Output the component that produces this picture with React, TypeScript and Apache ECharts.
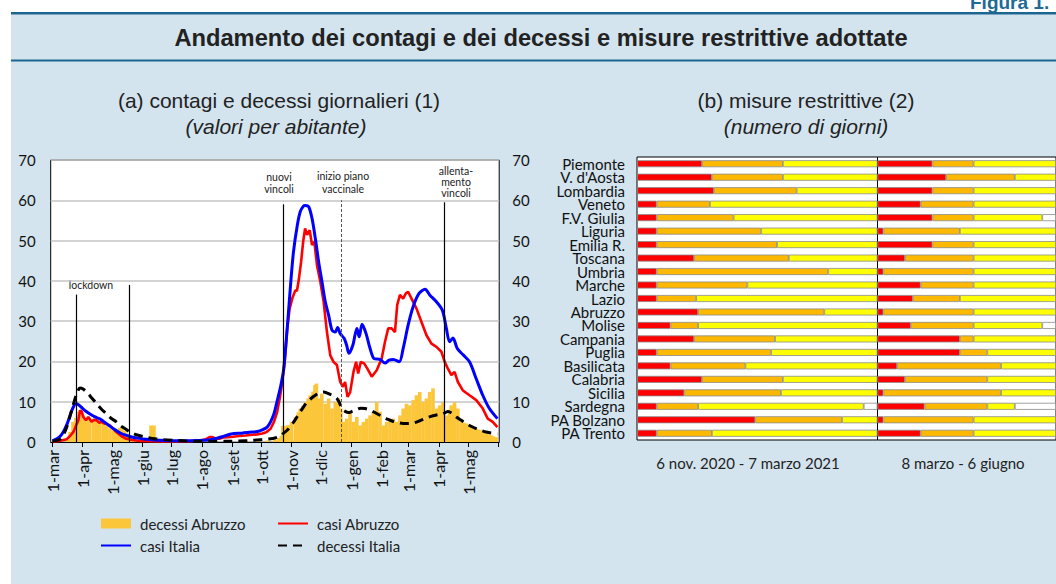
import React, { useEffect, useRef } from "react";
import * as echarts from "echarts";

// ---------- DATA ----------
// Left panel: day offset from 1 March 2020, value per abitante
const START_UTC = Date.UTC(2020, 2, 1);
const DAY_MS = 86400000;
const END_DAY = 456;
const monthNames = ["gen", "feb", "mar", "apr", "mag", "giu", "lug", "ago", "set", "ott", "nov", "dic"];
const yTickStep = 10;
const yMax = 70;

const casiItalia: [number, number][] = [
  [0, 0.3], [7, 1.2], [11, 2.5], [15, 4.5], [18, 6.6], [21, 8.5], [24, 9.5], [27, 9.2], [31, 8.3], [35, 7.5],
  [38, 7], [43, 6.3], [48, 5.8], [53, 5], [58, 4.1], [63, 3.2], [69, 2.3], [75, 1.7], [82, 1.2], [89, 0.9],
  [96, 0.7], [110, 0.45], [130, 0.3], [150, 0.35], [160, 0.5], [168, 0.9], [174, 1.3], [180, 1.8], [186, 2.1],
  [194, 2.2], [202, 2.4], [210, 2.6], [215, 3], [220, 3.7], [223.5, 5], [227, 7], [230, 9.9], [234, 14],
  [237, 18.2], [240.5, 28], [244, 39], [247, 47.2], [251, 53.9], [254, 57.2], [257, 58.5], [259, 58.7],
  [262.6, 58.4], [266, 55.5], [269.4, 50.5], [272.8, 44.7], [276.2, 39.8], [279.6, 34.8], [283, 31.5],
  [286.4, 27.8], [289.8, 27.3], [292.2, 28.4], [294.9, 26.9], [299, 25.7], [301.5, 24], [303.8, 22],
  [307.8, 24], [312, 28.2], [314.3, 26.1], [317.3, 29.2], [321.4, 26.9], [325.5, 23.2], [329.6, 20.7],
  [335.7, 20.5], [340.8, 19.6], [345, 20.3], [349.3, 20.5], [355.4, 19.9], [359.4, 23.2], [364.5, 29],
  [369.6, 33.6], [375.7, 36.9], [381.9, 37.9], [386.6, 36.5], [393.5, 34.8], [399.6, 32.7], [403.7, 28.2],
  [407, 24.9], [410.4, 25.8], [414.9, 23.2], [420.6, 21.7], [427.4, 19.9], [434.3, 15.7], [441, 11.6],
  [447.8, 8.3], [456, 5.8],
];

const casiAbruzzo: [number, number][] = [
  [0, 0], [8, 0.3], [14.6, 0.7], [18, 1.5], [21.4, 2.5], [24, 4], [26.5, 5.4], [28.2, 7.8], [29.9, 7.6],
  [31.6, 6.2], [34.3, 5.4], [36.7, 6.2], [40, 5], [42.5, 5.5], [45.2, 5.4], [48, 4.8], [50.3, 5], [53, 4.6],
  [55.4, 4.5], [58, 4.2], [60.5, 3.7], [64, 2.8], [67.3, 2.1], [71, 1.4], [75.7, 0.8], [82, 0.5], [89.3, 0.25],
  [113, 0.15], [137, 0.15], [150, 0.3], [157.3, 0.7], [161, 1.2], [164, 1.2], [167, 0.9], [170.8, 0.8],
  [175, 1.1], [179.4, 1.2], [185, 1.3], [191.2, 1.5], [198, 1.6], [205, 1.8], [210, 1.9], [215, 2.1],
  [219, 2.4], [223.5, 3.3], [227, 5], [230.3, 7.5], [233, 11], [235.5, 14.9], [238, 20], [240.5, 28],
  [243, 33], [245.7, 35.6], [249, 37.7], [250.5, 37.5], [252.4, 40.2], [254.8, 44.7], [256.9, 49.7],
  [258.9, 53], [261, 51.4], [263.6, 52.6], [266, 48.9], [268.4, 49.7], [271.1, 43.9], [274.5, 39.8],
  [277.9, 34.8], [281.3, 27.3], [284.7, 21.5], [288, 19.9], [291.5, 19.1], [294.9, 14.9], [297.6, 13.7],
  [299.9, 14.9], [302.4, 11.2], [305.1, 12.4], [308.5, 17.4], [311.2, 19.9], [313.3, 17], [316, 19.9],
  [319.4, 19.5], [322.7, 18.2], [327.2, 16.2], [332.3, 17.8], [337.4, 20.7], [340.8, 24.9], [344.1, 28.2],
  [347.6, 28.2], [351, 27.3], [353.3, 34], [356.1, 36.5], [359.4, 35.6], [362.2, 36.9], [364.5, 37.3],
  [368, 35.6], [373.1, 33.1], [378.2, 29.8], [383.3, 26.5], [388.4, 24.4], [393.5, 23.6], [398.6, 22.4],
  [402, 19.9], [405.3, 18.2], [408.8, 16.6], [412.1, 17.4], [415.5, 14.9], [420.6, 12.8], [427.4, 11.6],
  [434.3, 10.4], [441, 8.3], [446.1, 5.8], [451.2, 5], [456, 3.7],
];

const decessiItalia: [number, number][] = [
  [0, 0.2], [7, 0.6], [11, 1.7], [14.6, 3.7], [19.7, 7.9], [24.8, 12], [28.2, 13.4], [31, 13.2], [35, 12.4],
  [40, 11], [45.2, 9.5], [50, 8.2], [55.4, 7], [60, 5.9], [65.5, 5], [70, 4], [75.7, 3.1], [80, 2.4],
  [85.9, 1.8], [96, 1.2], [105, 0.8], [113, 0.6], [125, 0.4], [137, 0.25], [150, 0.2], [164, 0.15],
  [180, 0.2], [191, 0.25], [205, 0.4], [215, 0.6], [223.5, 0.8], [228, 1], [233.7, 1.5], [237, 2.2],
  [240.5, 2.9], [244, 4], [247.3, 5], [250.5, 6.2], [254, 7.5], [257.5, 8.8], [261, 9.9], [265, 10.8],
  [269.4, 11.6], [273, 12.1], [277.9, 12.4], [281, 12.2], [284.7, 11.8], [288, 11.4], [291.5, 10.8],
  [294, 9.8], [296.6, 8.3], [300, 7.6], [303.4, 7.3], [307, 7.6], [312, 8.1], [316, 8.4], [320.4, 8.3],
  [324.5, 8], [328.9, 7.5], [333.5, 6.9], [339, 6.2], [344, 5.6], [349.3, 5.1], [354, 4.8], [359.4, 4.6],
  [364, 4.6], [369.6, 4.7], [375, 5.1], [379.8, 5.6], [385, 6.1], [390, 6.5], [395, 6.8], [400.2, 7],
  [405.3, 7.6], [409, 7.2], [413.9, 6.2], [419, 5.4], [424, 4.6], [429, 3.9], [434.3, 3.3], [439, 2.9],
  [444.4, 2.5], [450, 2.2], [456, 2.0],
];

const decessiAbruzzo: [number, number][] = [
  [15, 0.5], [18, 2.5], [21, 5], [24, 6], [27, 7.5], [28.5, 7.9], [31.5, 6.6], [35, 5.8], [38, 6],
  [41.8, 5.4], [45, 5.2], [48.5, 5], [52, 4.6], [55.4, 4.1], [58.8, 3.4], [62.2, 2.9], [65.6, 3], [69, 3.5],
  [70.7, 3.7], [74, 2.8], [75.7, 2.1], [79, 1.2], [82, 0.6], [86, 0.4], [90, 0.3], [94, 0.2],
  [101, 4.1], [104, 4.1],
  [200, 0.2], [210, 0.3], [220, 0.4], [228, 0.6], [232, 1], [234.5, 1.5], [236, 4], [239, 4], [241.5, 4.2],
  [245, 5], [249, 6.2], [252, 7.4], [254, 8.3], [256.5, 9], [259, 9.9], [262, 10.8], [264, 11.6], [267, 12.5],
  [269, 14.1], [270.5, 14.5], [272.8, 10.8], [276, 12], [279.6, 9.5], [283, 10.8], [286.4, 8.3], [289.8, 9.9],
  [293.2, 10.8], [295.5, 8.3], [298.2, 5], [301.6, 5.8], [305, 7.5], [308.5, 5], [311.9, 6.2], [315.3, 4.1],
  [318.7, 5], [322.1, 5.8], [325.5, 6.6], [328.9, 7.5], [332.3, 9.9], [335.7, 7.5], [339.1, 4.1], [342.5, 5],
  [345.9, 5.4], [349.3, 5.8], [352.7, 5], [356.1, 6.6], [359.4, 8.3], [362.8, 9.5], [366.2, 9.1],
  [369.6, 10.4], [373, 11.6], [376.4, 12.4], [379.8, 9.9], [383.2, 10.8], [386.6, 12.4], [390, 13.3],
  [393.4, 8.3], [396.8, 9.1], [400.2, 9.9], [403.6, 6.6], [407, 8], [408.7, 9.1], [412.1, 9.9], [415.5, 8.3],
  [418.9, 5], [421.5, 4.8], [424, 4.6], [426.5, 4.3], [429.1, 4.1], [431.7, 3.7], [434.3, 3.3], [436.8, 3.1],
  [439.4, 2.9], [442, 2.5], [444.5, 2.1], [447, 1.9], [449.6, 1.7], [452, 1.4], [454.7, 1.2],
];

// vertical event lines: [day offset, top value]
const eventLockdownStart: [number, number] = [24, 36.6];
const eventLockdownEnd: [number, number] = [79, 39];
const eventNuoviVincoli: [number, number] = [237, 59];
const eventVaccini: [number, number] = [295.6, 60];
const eventAllentamento: [number, number] = [402, 59.5];

// Right panel
const regions = [
  "Piemonte", "V. d'Aosta", "Lombardia", "Veneto", "F.V. Giulia", "Liguria", "Emilia R.", "Toscana",
  "Umbria", "Marche", "Lazio", "Abruzzo", "Molise", "Campania", "Puglia", "Basilicata", "Calabria",
  "Sicilia", "Sardegna", "PA Bolzano", "PA Trento",
];
const p1Days = 122;
const p2Days = 91;
const p1Rossa = [33, 38, 39, 10, 10, 10, 10, 29, 10, 10, 10, 31, 17, 29, 10, 17, 33, 24, 10, 60, 10];
const p1Arancione = [41, 36, 42, 27, 39, 53, 61, 48, 87, 46, 20, 64, 14, 41, 58, 38, 41, 49, 21, 44, 28];
const p1Gialla = [48, 48, 41, 85, 73, 59, 51, 45, 25, 66, 92, 27, 91, 52, 54, 67, 48, 49, 84, 18, 84];
const p1Bianca = [0, 0, 0, 0, 0, 0, 0, 0, 0, 0, 0, 0, 0, 0, 0, 0, 0, 0, 7, 0, 0];
const p2Rossa = [28, 35, 28, 22, 28, 3, 28, 14, 3, 22, 18, 3, 17, 42, 42, 10, 14, 3, 24, 3, 22];
const p2Arancione = [21, 35, 21, 27, 21, 39, 21, 35, 46, 27, 24, 46, 32, 7, 14, 53, 42, 60, 32, 46, 27];
const p2Gialla = [42, 21, 42, 42, 35, 49, 42, 42, 42, 42, 49, 42, 35, 42, 35, 28, 35, 28, 14, 42, 42];
const p2Bianca = [0, 0, 0, 0, 7, 0, 0, 0, 0, 0, 0, 0, 7, 0, 0, 0, 0, 0, 21, 0, 0];

// ---------- helpers ----------
const toTs = (d: number) => START_UTC + d * DAY_MS;
const toSeries = (arr: [number, number][]) => arr.map(([d, v]) => [toTs(d), v]);
const vLine = (ev: [number, number], dashed = false) => [
  { coord: [toTs(ev[0]), 0], lineStyle: dashed ? { type: [3, 2], color: "#555", width: 1 } : { type: "solid", color: "#000", width: 1.2 } },
  { coord: [toTs(ev[0]), ev[1]] },
];

const FONT = "Lato";
const TFONT = "Liberation Sans";

export default function App() {
  const ref = useRef<HTMLDivElement>(null);

  useEffect(() => {
    document.body.style.margin = "0";
    if (!ref.current) return;
    const chart = echarts.init(ref.current, undefined, { renderer: "svg" });

    const stackBar = (name: string, data: number[], color: string, axis: number, stack: string) => ({
      type: "bar",
      name,
      stack,
      xAxisIndex: axis,
      yAxisIndex: axis + 1,
      barWidth: 7,
      data: data.map((v) => (v === 0 ? "-" : v)),
      itemStyle: { color, borderColor: "#8a8a8a", borderWidth: 0.8 },
      silent: true,
    });

    const annText = (text: string, x: number, y: number, size = 10.5) => ({
      type: "text",
      x,
      y,
      style: { text, fontFamily: FONT, fontSize: size, fill: "#222", align: "center", verticalAlign: "middle" },
    });

    const legendCommon = {
      orient: "vertical", itemGap: 7, itemWidth: 30, itemHeight: 10, padding: 0,
      textStyle: { fontFamily: FONT, fontSize: 15, color: "#222", padding: [0, 0, 0, 4] },
      selectedMode: false,
    };

    const lastLabelTs = toTs(END_DAY - 1);

    const option: any = {
      animation: false,
      backgroundColor: "#ffffff",
      useUTC: true,
      graphic: [
        { type: "rect", shape: { x: 11, y: 12, width: 1045, height: 572 }, style: { fill: "#d3e4ee" }, z: -10 },
        { type: "rect", shape: { x: 11, y: 12, width: 1045, height: 2 }, style: { fill: "#1b6690" }, z: -9 },
        { type: "rect", shape: { x: 11, y: 14, width: 1045, height: 1 }, style: { fill: "#7aa6c2" }, z: -9 },
        { type: "rect", shape: { x: 11, y: 59.5, width: 1045, height: 2 }, style: { fill: "#1b6690" }, z: -9 },
        {
          type: "text", x: 970, y: 12,
          style: { text: "Figura 1.", fontFamily: TFONT, fontWeight: "bold", fontSize: 19, fill: "#1d6a94", align: "left", verticalAlign: "bottom" },
        },
        {
          type: "text", x: 541, y: 38,
          style: { text: "Andamento dei contagi e dei decessi e misure restrittive adottate", fontFamily: TFONT, fontWeight: "bold", fontSize: 23.7, fill: "#222", align: "center", verticalAlign: "middle" },
        },
        {
          type: "text", x: 279, y: 100,
          style: { text: "(a) contagi e decessi giornalieri (1)", fontFamily: TFONT, fontSize: 21, fill: "#222", align: "center", verticalAlign: "middle" },
        },
        {
          type: "text", x: 276, y: 126,
          style: { text: "(valori per abitante)", fontFamily: TFONT, fontStyle: "italic", fontSize: 21, fill: "#222", align: "center", verticalAlign: "middle" },
        },
        {
          type: "text", x: 806, y: 100,
          style: { text: "(b) misure restrittive (2)", fontFamily: TFONT, fontSize: 21, fill: "#222", align: "center", verticalAlign: "middle" },
        },
        {
          type: "text", x: 806, y: 126,
          style: { text: "(numero di giorni)", fontFamily: TFONT, fontStyle: "italic", fontSize: 21, fill: "#222", align: "center", verticalAlign: "middle" },
        },
        annText("lockdown", 91, 285),
        annText("nuovi", 279, 176.5),
        annText("vincoli", 279, 188.5),
        annText("inizio piano", 343, 176),
        annText("vaccinale", 343, 188.5),
        annText("allenta-", 456, 171),
        annText("mento", 456, 182),
        annText("vincoli", 456, 193),
        {
          type: "text", x: 748, y: 463,
          style: { text: "6 nov. 2020 - 7 marzo 2021", fontFamily: FONT, fontSize: 15, fill: "#222", align: "center", verticalAlign: "middle" },
        },
        {
          type: "text", x: 963, y: 463,
          style: { text: "8 marzo - 6 giugno", fontFamily: FONT, fontSize: 15, fill: "#222", align: "center", verticalAlign: "middle" },
        },
      ],
      legend: [
        {
          ...legendCommon, left: 100, top: 516,
          data: [{ name: "decessi Abruzzo", icon: "rect" }, { name: "casi Italia", itemStyle: { opacity: 0 } }],
        },
        {
          ...legendCommon, left: 277, top: 516,
          data: [{ name: "casi Abruzzo", itemStyle: { opacity: 0 } }, { name: "decessi Italia", itemStyle: { opacity: 0 } }],
        },
      ],
      grid: [
        { left: 50.7, top: 160, width: 448.5, height: 282, show: true, backgroundColor: "#fff", borderColor: "#000", borderWidth: 1 },
        { left: 637, top: 157, width: 240.5, height: 283, show: true, backgroundColor: "#fff", borderColor: "#000", borderWidth: 1 },
        { left: 877.5, top: 157, width: 179.5, height: 283, show: true, backgroundColor: "#fff", borderColor: "#000", borderWidth: 1 },
      ],
      xAxis: [
        {
          type: "time", gridIndex: 0, min: toTs(0), max: toTs(END_DAY), splitNumber: 15,
          axisLine: { lineStyle: { color: "#000", width: 1 } },
          axisTick: { show: true, length: 5, lineStyle: { color: "#000" } },
          minorTick: { show: false },
          splitLine: { show: false },
          axisLabel: {
            rotate: 90, margin: 8, fontFamily: FONT, fontSize: 16, color: "#111",
            hideOverlap: false, showMaxLabel: false,
            formatter: (val: number) => (val > lastLabelTs ? "" : "1-" + monthNames[new Date(val).getUTCMonth()]),
          },
        },
        { type: "value", gridIndex: 1, min: 0, max: p1Days, show: false },
        { type: "value", gridIndex: 2, min: 0, max: p2Days, show: false },
      ],
      yAxis: [
        {
          type: "value", gridIndex: 0, min: 0, max: yMax, interval: yTickStep,
          axisLine: { show: false }, axisTick: { show: false },
          splitLine: { show: true, lineStyle: { color: "#c4c4c4", width: 1.5 } },
          axisLabel: { margin: 15, fontFamily: FONT, fontSize: 15, color: "#111" },
        },
        {
          type: "value", gridIndex: 0, position: "right", min: 0, max: yMax, interval: yTickStep,
          axisLine: { show: false }, axisTick: { show: false }, splitLine: { show: false },
          axisLabel: { margin: 13, fontFamily: FONT, fontSize: 15, color: "#111" },
        },
        {
          type: "category", gridIndex: 1, data: regions, inverse: true,
          axisLine: { show: false }, axisTick: { show: false },
          axisLabel: { interval: 0, margin: 12, fontFamily: FONT, fontSize: 15, color: "#111", lineHeight: 13 },
        },
        { type: "category", gridIndex: 2, data: regions, inverse: true, show: false },
      ],
      series: [
        {
          type: "bar", name: "decessi Abruzzo", xAxisIndex: 0, yAxisIndex: 0,
          data: toSeries(decessiAbruzzo), barWidth: 3.6, itemStyle: { color: "#fcc63a" }, silent: true,
        },
        {
          type: "line", name: "casi Abruzzo", xAxisIndex: 0, yAxisIndex: 0, showSymbol: false, symbol: "none",
          data: toSeries(casiAbruzzo), lineStyle: { color: "#ff0000", width: 2.6 }, itemStyle: { color: "#ff0000" }, silent: true,
        },
        {
          type: "line", name: "casi Italia", xAxisIndex: 0, yAxisIndex: 0, showSymbol: false, symbol: "none", smooth: 0.3,
          data: toSeries(casiItalia), lineStyle: { color: "#0000ff", width: 3 }, itemStyle: { color: "#0000ff" }, silent: true,
          markLine: {
            silent: true, symbol: ["none", "none"], label: { show: false },
            data: [
              vLine(eventLockdownStart), vLine(eventLockdownEnd), vLine(eventNuoviVincoli),
              vLine(eventVaccini, true), vLine(eventAllentamento),
            ],
          },
        },
        {
          type: "line", name: "decessi Italia", xAxisIndex: 0, yAxisIndex: 0, showSymbol: false, symbol: "none", smooth: 0.3,
          data: toSeries(decessiItalia), lineStyle: { color: "#000", width: 3, type: [9, 6] }, itemStyle: { color: "#000" }, silent: true,
        },
        stackBar("p1 rossa", p1Rossa, "#ff0000", 1, "p1"),
        stackBar("p1 arancione", p1Arancione, "#fdb900", 1, "p1"),
        stackBar("p1 gialla", p1Gialla, "#ffff00", 1, "p1"),
        stackBar("p1 bianca", p1Bianca, "#ffffff", 1, "p1"),
        stackBar("p2 rossa", p2Rossa, "#ff0000", 2, "p2"),
        stackBar("p2 arancione", p2Arancione, "#fdb900", 2, "p2"),
        stackBar("p2 gialla", p2Gialla, "#ffff00", 2, "p2"),
        stackBar("p2 bianca", p2Bianca, "#ffffff", 2, "p2"),
      ],
    };

    chart.setOption(option);
    return () => chart.dispose();
  }, []);

  return <div ref={ref} style={{ width: 1056, height: 584 }} />;
}
